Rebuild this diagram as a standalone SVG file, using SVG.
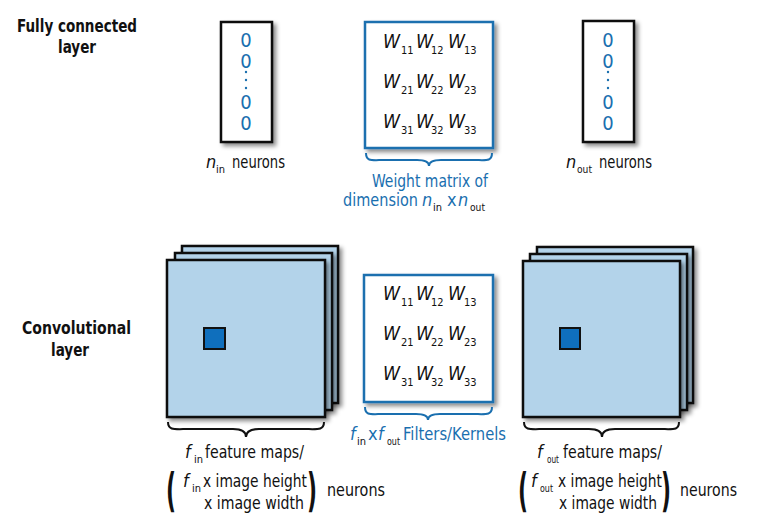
<svg xmlns="http://www.w3.org/2000/svg" width="764" height="532" viewBox="0 0 764 532">
<defs>
<filter id="sh" x="-10%" y="-10%" width="130%" height="130%">
<feDropShadow dx="3" dy="3" stdDeviation="2" flood-color="#000" flood-opacity="0.45"/>
</filter>
<style>
text{font-family:"DejaVu Sans Condensed","Liberation Sans Narrow","Roboto Condensed","Liberation Sans",sans-serif;font-stretch:condensed}
.t{font-size:18px;fill:#111}
.i{font-style:italic}
.b{font-weight:bold;font-size:18px;fill:#111}
.bl{fill:#1a6faf}
.z{font-size:20px;fill:#1a6faf;text-anchor:middle}
.w{font-size:19px;font-style:italic;fill:#111}
.s{font-size:11px;fill:#111}
.box{fill:#fff;stroke:#111;stroke-width:2.5}
.wbox{fill:#fff;stroke:#1a6faf;stroke-width:2.5}
.map{fill:#b3d3ea;stroke:#111;stroke-width:2.5}
.px{fill:#0f6fbd;stroke:#111;stroke-width:2}
.brk{fill:none;stroke:#111;stroke-width:2}
.brb{fill:none;stroke:#1a6faf;stroke-width:2}
.par{font-size:46px;fill:#111;font-weight:bold;font-family:"DejaVu Sans",sans-serif;font-stretch:normal}
</style>
</defs>

<g id="fc-title"><text class="b" x="17" y="32" textLength="120" lengthAdjust="spacingAndGlyphs">Fully connected</text><text class="b" x="58" y="53" textLength="38" lengthAdjust="spacingAndGlyphs">layer</text></g>
<g id="conv-title"><text class="b" x="22" y="334" textLength="109" lengthAdjust="spacingAndGlyphs">Convolutional</text><text class="b" x="51" y="356" textLength="38" lengthAdjust="spacingAndGlyphs">layer</text></g>

<g id="n-in">
<rect class="box" x="221" y="22" width="51" height="120" filter="url(#sh)"/>
<text class="z" x="246" y="47">0</text><text class="z" x="246" y="68">0</text>
<circle cx="246" cy="72" r="1.2" fill="#1a6faf"/><circle cx="246" cy="80" r="1.2" fill="#1a6faf"/><circle cx="246" cy="88" r="1.2" fill="#1a6faf"/>
<text class="z" x="246" y="109">0</text><text class="z" x="246" y="130">0</text>
<text class="t i" x="206" y="168">n</text><text class="s" x="216" y="173">in</text>
<text class="t" x="232" y="168" textLength="53" lengthAdjust="spacingAndGlyphs">neurons</text>
</g>

<g id="weight-matrix">
<rect class="wbox" x="365" y="22" width="128" height="126" filter="url(#sh)"/>
<text class="w" x="383" y="48" textLength="17" lengthAdjust="spacingAndGlyphs">W</text><text class="s" x="401" y="54">11</text>
<text class="w" x="416" y="48" textLength="17" lengthAdjust="spacingAndGlyphs">W</text><text class="s" x="431" y="54">12</text>
<text class="w" x="448" y="48" textLength="17" lengthAdjust="spacingAndGlyphs">W</text><text class="s" x="464" y="54">13</text>
<text class="w" x="383" y="88" textLength="17" lengthAdjust="spacingAndGlyphs">W</text><text class="s" x="401" y="94">21</text>
<text class="w" x="416" y="88" textLength="17" lengthAdjust="spacingAndGlyphs">W</text><text class="s" x="431" y="94">22</text>
<text class="w" x="448" y="88" textLength="17" lengthAdjust="spacingAndGlyphs">W</text><text class="s" x="464" y="94">23</text>
<text class="w" x="383" y="128" textLength="17" lengthAdjust="spacingAndGlyphs">W</text><text class="s" x="401" y="134">31</text>
<text class="w" x="416" y="128" textLength="17" lengthAdjust="spacingAndGlyphs">W</text><text class="s" x="431" y="134">32</text>
<text class="w" x="448" y="128" textLength="17" lengthAdjust="spacingAndGlyphs">W</text><text class="s" x="464" y="134">33</text>
<text class="t bl" x="372" y="187" textLength="116" lengthAdjust="spacingAndGlyphs">Weight matrix of</text>
<text class="t bl" x="343" y="206" textLength="75" lengthAdjust="spacingAndGlyphs">dimension</text>
<text class="t bl i" x="422" y="206">n</text><text class="s bl" x="433" y="211">in</text>
<text class="t bl" x="447" y="206">x</text>
<text class="t bl i" x="458" y="206">n</text><text class="s bl" x="470" y="211" textLength="15" lengthAdjust="spacingAndGlyphs">out</text>
</g>

<g id="n-out">
<rect class="box" x="583" y="21" width="51" height="121" filter="url(#sh)"/>
<text class="z" x="608" y="47">0</text><text class="z" x="608" y="68">0</text>
<circle cx="608" cy="72" r="1.2" fill="#1a6faf"/><circle cx="608" cy="80" r="1.2" fill="#1a6faf"/><circle cx="608" cy="88" r="1.2" fill="#1a6faf"/>
<text class="z" x="608" y="109">0</text><text class="z" x="608" y="130">0</text>
<text class="t i" x="566" y="168">n</text><text class="s" x="577" y="173" textLength="15" lengthAdjust="spacingAndGlyphs">out</text>
<text class="t" x="599" y="168" textLength="53" lengthAdjust="spacingAndGlyphs">neurons</text>
</g>

<g id="input-maps">
<rect class="map" x="182" y="246" width="156" height="157" filter="url(#sh)"/>
<rect class="map" x="175" y="253" width="157" height="157" filter="url(#sh)"/>
<rect class="map" x="167" y="260" width="158" height="157" filter="url(#sh)"/>
<rect class="px" x="204" y="328" width="21" height="21"/>
<text class="t i" x="185" y="458">f</text><text class="s" x="194" y="463">in</text>
<text class="t" x="205" y="458" textLength="99" lengthAdjust="spacingAndGlyphs">feature maps/</text>
<text class="par" x="166" y="506" textLength="10" lengthAdjust="spacingAndGlyphs">(</text>
<text class="t i" x="183" y="487">f</text><text class="s" x="192" y="492">in</text>
<text class="t" x="203" y="487" textLength="104" lengthAdjust="spacingAndGlyphs">x image height</text>
<text class="t" x="204" y="509" textLength="100" lengthAdjust="spacingAndGlyphs">x image width</text>
<text class="par" x="307" y="506" textLength="10" lengthAdjust="spacingAndGlyphs">)</text>
<text class="t" x="327" y="496" textLength="58" lengthAdjust="spacingAndGlyphs">neurons</text>
</g>

<g id="filters">
<rect class="wbox" x="364" y="275" width="129" height="127" filter="url(#sh)"/>
<text class="w" x="383" y="300" textLength="17" lengthAdjust="spacingAndGlyphs">W</text><text class="s" x="401" y="306">11</text>
<text class="w" x="416" y="300" textLength="17" lengthAdjust="spacingAndGlyphs">W</text><text class="s" x="431" y="306">12</text>
<text class="w" x="448" y="300" textLength="17" lengthAdjust="spacingAndGlyphs">W</text><text class="s" x="464" y="306">13</text>
<text class="w" x="383" y="340" textLength="17" lengthAdjust="spacingAndGlyphs">W</text><text class="s" x="401" y="346">21</text>
<text class="w" x="416" y="340" textLength="17" lengthAdjust="spacingAndGlyphs">W</text><text class="s" x="431" y="346">22</text>
<text class="w" x="448" y="340" textLength="17" lengthAdjust="spacingAndGlyphs">W</text><text class="s" x="464" y="346">23</text>
<text class="w" x="383" y="380" textLength="17" lengthAdjust="spacingAndGlyphs">W</text><text class="s" x="401" y="386">31</text>
<text class="w" x="416" y="380" textLength="17" lengthAdjust="spacingAndGlyphs">W</text><text class="s" x="431" y="386">32</text>
<text class="w" x="448" y="380" font-style="normal" textLength="17" lengthAdjust="spacingAndGlyphs">W</text><text class="s" x="464" y="386">33</text>
<text class="t bl i" x="350" y="440">f</text><text class="s bl" x="357" y="445">in</text>
<text class="t bl" x="368" y="440">x</text>
<text class="t bl i" x="378" y="440">f</text><text class="s bl" x="387" y="445" textLength="13" lengthAdjust="spacingAndGlyphs">out</text>
<text class="t bl" x="403" y="440" textLength="103" lengthAdjust="spacingAndGlyphs">Filters/Kernels</text>
</g>

<g id="output-maps">
<rect class="map" x="537" y="247" width="156" height="156" filter="url(#sh)"/>
<rect class="map" x="530" y="254" width="157" height="156" filter="url(#sh)"/>
<rect class="map" x="523" y="261" width="157" height="156" filter="url(#sh)"/>
<rect class="px" x="560" y="328" width="20" height="21"/>
<text class="t i" x="537" y="458">f</text><text class="s" x="547" y="463" textLength="12" lengthAdjust="spacingAndGlyphs">out</text>
<text class="t" x="563" y="458" textLength="99" lengthAdjust="spacingAndGlyphs">feature maps/</text>
<text class="par" x="518" y="506" textLength="10" lengthAdjust="spacingAndGlyphs">(</text>
<text class="t i" x="531" y="487">f</text><text class="s" x="540" y="492" textLength="13" lengthAdjust="spacingAndGlyphs">out</text>
<text class="t" x="558" y="487" textLength="104" lengthAdjust="spacingAndGlyphs">x image height</text>
<text class="t" x="559" y="509" textLength="98" lengthAdjust="spacingAndGlyphs">x image width</text>
<text class="par" x="661" y="506" textLength="10" lengthAdjust="spacingAndGlyphs">)</text>
<text class="t" x="680" y="496" textLength="57" lengthAdjust="spacingAndGlyphs">neurons</text>
</g>

<g id="connectors">
<path class="brb" d="M366,153 C366,162 372,160 385,160 L417,160 C425,160 429,162 429,166 C429,162 433,160 441,160 L473,160 C486,160 492,162 492,153"/>
<path class="brb" d="M365,407 C365,416 371,414 384,414 L416,414 C424,414 428,416 428,420 C428,416 432,414 440,414 L472,414 C485,414 492,416 492,407"/>
<path class="brk" d="M168,422 C168,431 175,429 190,429 L233,429 C241,429 246,431 246,437 C246,431 251,429 259,429 L302,429 C317,429 324,431 324,422"/>
<path class="brk" d="M524,422 C524,431 531,429 546,429 L589,429 C597,429 602,431 602,437 C602,431 607,429 615,429 L658,429 C673,429 679,431 679,422"/>
</g>
</svg>
